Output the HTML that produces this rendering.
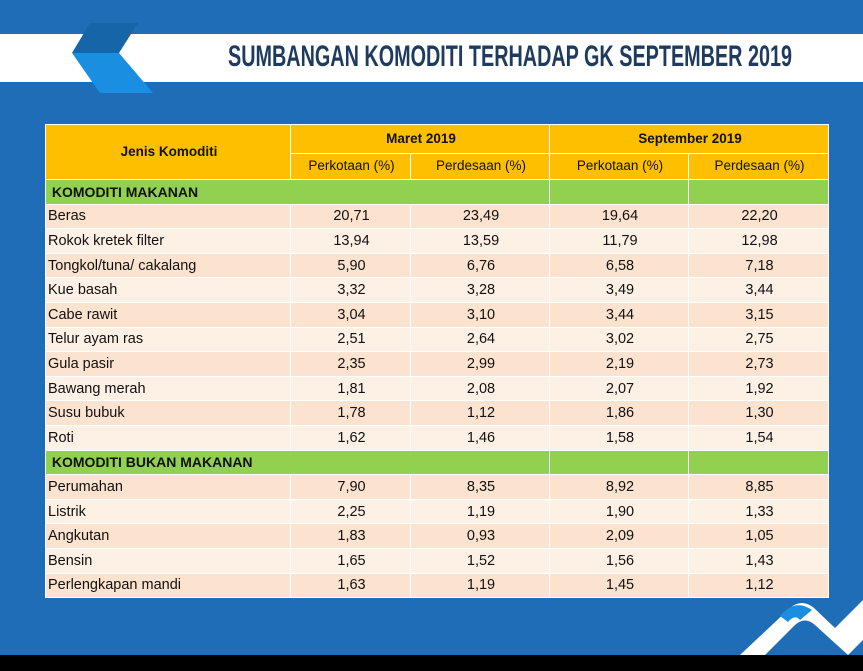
<!DOCTYPE html>
<html><head><style>
body{margin:0;width:863px;height:671px;background:#1e6db6;position:relative;overflow:hidden;font-family:"Liberation Sans",sans-serif}
.band{position:absolute;left:0;top:34px;width:863px;height:48px;background:#fff}
.title{position:absolute;left:228px;top:40px;font:bold 30px "Liberation Sans",sans-serif;color:#1f3a5f;transform:scaleX(0.66);transform-origin:left top;white-space:nowrap}
.black{position:absolute;left:0;top:655px;width:863px;height:16px;background:#000}
table{position:absolute;left:45px;top:124px;width:783px;border-collapse:collapse;table-layout:fixed;font-size:14.5px;color:#111}
td{border:1px solid #fff;padding:0 0 0 2px;height:23.6px;line-height:20px}
.h td{background:#fdbf00;text-align:center;font-weight:bold;font-size:13.5px}
.h2 td{background:#fdbf00;text-align:center;font-weight:normal;font-size:13.5px;height:25px}
.s td{background:#92d050;font-weight:bold;font-size:14px}
.d td.n{text-align:center}
.a td{background:#fbe3cf}
.b td{background:#fdf1e5}
</style></head><body>
<div class="band"></div>
<svg style="position:absolute;left:0;top:0" width="863" height="671">
<polygon points="90,23 138,23 119,53 72,53" fill="#1565a8"/>
<polygon points="72,53 119,53 153,93 100,93" fill="#1a8ee0"/>
<path d="M740,655 L790,608 Q802,598 814,608 L835,628 L863,600 L863,640 L848,655 L815,625 Q805,616 795,625 L765,655Z" fill="#fff"/>
<path d="M780,616 Q795,598 812,610 L800,620 Q795,614 788,622Z" fill="#1a8ee0"/>
</svg>
<div class="title">SUMBANGAN KOMODITI TERHADAP GK SEPTEMBER 2019</div>
<table>
<colgroup><col style="width:245px"><col style="width:120px"><col style="width:139px"><col style="width:139px"><col style="width:140px"></colgroup>
<tr class="h"><td rowspan="2" style="height:54px">Jenis Komoditi</td><td colspan="2" style="height:27px">Maret 2019</td><td colspan="2">September 2019</td></tr>
<tr class="h2"><td>Perkotaan (%)</td><td>Perdesaan (%)</td><td>Perkotaan (%)</td><td>Perdesaan (%)</td></tr>
<tr class="s"><td colspan="3">&nbsp;KOMODITI MAKANAN</td><td></td><td></td></tr>
<tr class="d a"><td>Beras</td><td class="n">20,71</td><td class="n">23,49</td><td class="n">19,64</td><td class="n">22,20</td></tr>
<tr class="d b"><td>Rokok kretek filter</td><td class="n">13,94</td><td class="n">13,59</td><td class="n">11,79</td><td class="n">12,98</td></tr>
<tr class="d a"><td>Tongkol/tuna/ cakalang</td><td class="n">5,90</td><td class="n">6,76</td><td class="n">6,58</td><td class="n">7,18</td></tr>
<tr class="d b"><td>Kue basah</td><td class="n">3,32</td><td class="n">3,28</td><td class="n">3,49</td><td class="n">3,44</td></tr>
<tr class="d a"><td>Cabe rawit</td><td class="n">3,04</td><td class="n">3,10</td><td class="n">3,44</td><td class="n">3,15</td></tr>
<tr class="d b"><td>Telur ayam ras</td><td class="n">2,51</td><td class="n">2,64</td><td class="n">3,02</td><td class="n">2,75</td></tr>
<tr class="d a"><td>Gula pasir</td><td class="n">2,35</td><td class="n">2,99</td><td class="n">2,19</td><td class="n">2,73</td></tr>
<tr class="d b"><td>Bawang merah</td><td class="n">1,81</td><td class="n">2,08</td><td class="n">2,07</td><td class="n">1,92</td></tr>
<tr class="d a"><td>Susu bubuk</td><td class="n">1,78</td><td class="n">1,12</td><td class="n">1,86</td><td class="n">1,30</td></tr>
<tr class="d b"><td>Roti</td><td class="n">1,62</td><td class="n">1,46</td><td class="n">1,58</td><td class="n">1,54</td></tr>
<tr class="s"><td colspan="3">&nbsp;KOMODITI BUKAN MAKANAN</td><td></td><td></td></tr>
<tr class="d a"><td>Perumahan</td><td class="n">7,90</td><td class="n">8,35</td><td class="n">8,92</td><td class="n">8,85</td></tr>
<tr class="d b"><td>Listrik</td><td class="n">2,25</td><td class="n">1,19</td><td class="n">1,90</td><td class="n">1,33</td></tr>
<tr class="d a"><td>Angkutan</td><td class="n">1,83</td><td class="n">0,93</td><td class="n">2,09</td><td class="n">1,05</td></tr>
<tr class="d b"><td>Bensin</td><td class="n">1,65</td><td class="n">1,52</td><td class="n">1,56</td><td class="n">1,43</td></tr>
<tr class="d a"><td>Perlengkapan mandi</td><td class="n">1,63</td><td class="n">1,19</td><td class="n">1,45</td><td class="n">1,12</td></tr>
</table>
<div class="black"></div>
</body></html>
